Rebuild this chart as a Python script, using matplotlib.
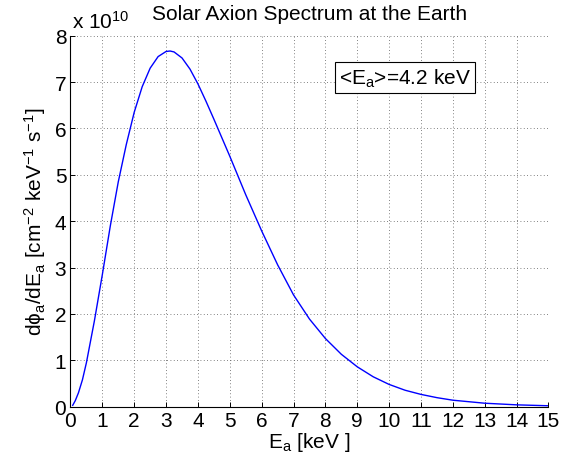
import matplotlib
matplotlib.use("Agg")
import matplotlib.pyplot as plt

plt.rcParams['font.family'] = ['Liberation Sans', 'DejaVu Sans']
plt.rcParams['mathtext.fontset'] = 'custom'
plt.rcParams['mathtext.rm'] = 'Liberation Sans'
plt.rcParams['mathtext.it'] = 'Liberation Sans'
plt.rcParams['mathtext.bf'] = 'Liberation Sans:bold'

# Data (flux in units of 1e10 cm^-2 keV^-1 s^-1)
energy_keV = [0.07, 0.15, 0.25, 0.375, 0.5, 0.75, 1.0, 1.25, 1.5, 1.75, 2.0, 2.25,
              2.5, 2.75, 3.0, 3.125, 3.25, 3.5, 3.75, 4.0, 4.25, 4.5, 4.75, 5.0,
              5.5, 6.0, 6.5, 7.0, 7.5, 8.0, 8.5, 9.0, 9.5, 10.0, 10.5, 11.0, 11.5,
              12.0, 13.0, 14.0, 15.0]
flux_1e10 = [0.03, 0.13, 0.30, 0.58, 0.95, 1.85, 2.85, 3.90, 4.85, 5.65, 6.35, 6.90,
             7.30, 7.55, 7.66, 7.67, 7.65, 7.52, 7.28, 6.96, 6.59, 6.20, 5.80, 5.40,
             4.57, 3.79, 3.06, 2.41, 1.89, 1.47, 1.13, 0.86, 0.645, 0.48, 0.355, 0.265,
             0.195, 0.14, 0.075, 0.04, 0.02]
xticks = list(range(0, 16))
yticks = list(range(0, 9))
title = "Solar Axion Spectrum at the Earth"
mean_label = r"<E$_{a}$>=4.2 keV"

FS = 15

fig = plt.figure(figsize=(5.63, 4.60), dpi=100)
ax = fig.add_axes([0.1252, 0.1137, 0.9742 - 0.1252, 0.9202 - 0.1137])

ax.plot(energy_keV, flux_1e10, color=(0, 0, 1), lw=1.0)

ax.set_xlim(0, 15)
ax.set_ylim(0, 8)
ax.set_xticks(xticks)
ax.set_yticks(yticks)
ax.tick_params(direction='in', length=3.5, width=0.7, labelsize=FS, pad=3,
               top=False, right=False)
for s in ['top', 'right']:
    ax.spines[s].set_visible(False)
for s in ['left', 'bottom']:
    ax.spines[s].set_linewidth(0.8)

ax.grid(True, linestyle=(0, (1, 3)), color='0.35', lw=0.6)
ax.set_axisbelow(True)

ax.set_title(title, fontsize=FS, pad=12)
ax.set_xlabel(r"E$_{a}$ [keV ]", fontsize=FS, labelpad=0)
ax.set_ylabel(r"d$\mathrm{\phi}_{a}$/dE$_{a}$ [cm$^{-2}$ keV$^{-1}$ s$^{-1}$]",
              fontsize=FS, labelpad=5)

ax.text(0.003, 1.010, r"x 10$^{10}$", transform=ax.transAxes, fontsize=FS,
        ha='left', va='bottom')

ax.text(0.562, 0.887, mean_label, transform=ax.transAxes, fontsize=FS,
        ha='left', va='center',
        bbox=dict(boxstyle='square,pad=0.2', fc='white', ec='black', lw=0.8))

fig.savefig("out.png", dpi=100)
